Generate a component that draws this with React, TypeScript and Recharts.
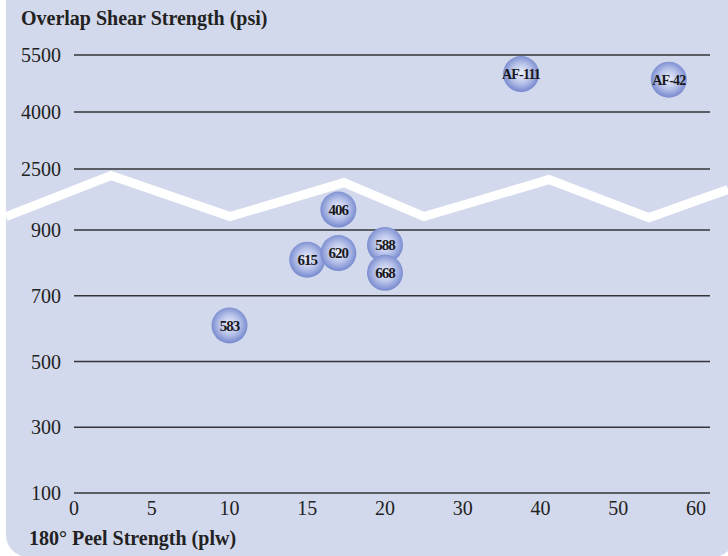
import React from "react";
import {
  ScatterChart,
  Scatter,
  XAxis,
  YAxis,
  CartesianGrid,
  ReferenceLine,
} from "recharts";

// products and their measured strengths
const products = ["583", "615", "620", "406", "588", "668", "AF-111", "AF-42"];
const peelStrength = [10, 15, 17, 17, 20, 20, 37.5, 56.5]; // plw
const shearStrength = [610, 810, 830, 1440, 855, 770, 5000, 4850]; // psi

// both axes are broken, so ticks are evenly spaced but not linear
const xTickValues = [0, 5, 10, 15, 20, 30, 40, 50, 60];
const yTickValues = [100, 300, 500, 700, 900, 2500, 4000, 5500];
// where each y tick sits on the drawn axis (gap before 2500 is a bit shorter)
const yTickSlots = [0, 1, 2, 3, 4, 4.928, 5.796, 6.664];
const xTickSlots = xTickValues.map((_, i) => i);

const BG = "#d3d9ec";
const SERIF = "'Liberation Serif', 'Times New Roman', serif";

// piecewise linear map from a real value to its slot on the broken axis
const toSlot = (v: number, values: number[], slots: number[]) => {
  for (let i = 0; i < values.length - 1; i++) {
    if (v <= values[i + 1] || i === values.length - 2) {
      const t = (v - values[i]) / (values[i + 1] - values[i]);
      return slots[i] + t * (slots[i + 1] - slots[i]);
    }
  }
  return slots[0];
};

const data = products.map((name, i) => ({
  name,
  sx: toSlot(peelStrength[i], xTickValues, xTickSlots),
  sy: toSlot(shearStrength[i], yTickValues, yTickSlots),
}));

const Bubble = (props: any) => {
  const { cx, cy, payload } = props;
  if (cx == null || cy == null) return null;
  const long = payload.name.length > 3;
  return (
    <g>
      <circle cx={cx} cy={cy} r={18} fill="url(#bubbleFill)" />
      <text
        x={cx}
        y={cy}
        dy="0.35em"
        textAnchor="middle"
        fontFamily={SERIF}
        fontWeight="bold"
        fontSize={long ? 14 : 15}
        letterSpacing={long ? -0.8 : -1}
        fill="#19191d"
      >
        {payload.name}
      </text>
    </g>
  );
};

// white zigzag marking the break in the y axis
const breakOffsets = [
  [-68, 17],
  [37, -24],
  [156, 17],
  [270, -17],
  [350, 17],
  [475, -20],
  [575, 18],
  [654, -10],
];

const AxisBreak = (props: any) => {
  const { x1, y1 } = props;
  const pts = breakOffsets.map(([dx, dy]) => `${x1 + dx},${y1 + dy}`).join(" ");
  return (
    <polyline
      points={pts}
      fill="none"
      stroke="#ffffff"
      strokeWidth={9}
      strokeLinejoin="miter"
    />
  );
};

const tickStyle = { fontFamily: SERIF, fontSize: 20, fill: "#222" };

const titleStyle: React.CSSProperties = {
  position: "absolute",
  fontFamily: SERIF,
  fontWeight: "bold",
  fontSize: 20,
  lineHeight: "20px",
  color: "#222",
  whiteSpace: "nowrap",
};

export default function App() {
  return (
    <div
      style={{
        position: "relative",
        width: 728,
        height: 556,
        overflow: "hidden",
        background: "#fff",
      }}
    >
      <style>{`body{margin:0}`}</style>
      <svg width={0} height={0} style={{ position: "absolute" }}>
        <defs>
          <radialGradient id="bubbleFill" cx="50%" cy="48%" r="50%">
            <stop offset="0%" stopColor="#eef0fb" />
            <stop offset="55%" stopColor="#b9c3ea" />
            <stop offset="100%" stopColor="#7b8dd0" />
          </radialGradient>
        </defs>
      </svg>
      <div
        style={{
          position: "absolute",
          left: 6,
          top: -30,
          width: 729,
          height: 587,
          borderRadius: 22,
          background: BG,
        }}
      />
      <div style={{ position: "absolute", left: 0, top: 0 }}>
        <ScatterChart
          width={728}
          height={556}
          margin={{ top: 55, right: 18, bottom: 0, left: 0 }}
        >
          <CartesianGrid
            vertical={false}
            stroke="#333338"
            strokeWidth={1.5}
          />
          <XAxis
            type="number"
            dataKey="sx"
            domain={[0, 8.18]}
            ticks={xTickSlots}
            tickFormatter={(v: number) => String(xTickValues[v])}
            axisLine={false}
            tickLine={false}
            tickMargin={2}
            height={63}
            tick={tickStyle}
            allowDataOverflow
          />
          <YAxis
            type="number"
            dataKey="sy"
            domain={[0, 6.664]}
            ticks={yTickSlots}
            tickFormatter={(v: number) =>
              String(yTickValues[yTickSlots.indexOf(v)])
            }
            axisLine={false}
            tickLine={false}
            tickMargin={7}
            width={74}
            tick={tickStyle}
            interval={0}
            allowDataOverflow
          />
          <ReferenceLine
            y={(yTickSlots[4] + yTickSlots[5]) / 2}
            ifOverflow="visible"
            shape={AxisBreak}
          />
          <Scatter data={data} shape={Bubble} isAnimationActive={false} />
        </ScatterChart>
      </div>
      <div style={{ ...titleStyle, left: 21, top: 8 }}>
        Overlap Shear Strength (psi)
      </div>
      <div style={{ ...titleStyle, left: 29, top: 528 }}>
        180° Peel Strength (plw)
      </div>
    </div>
  );
}
